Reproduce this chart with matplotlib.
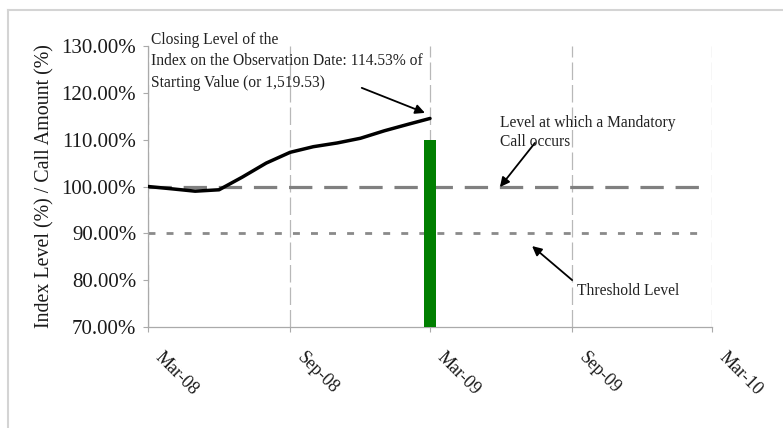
import matplotlib
matplotlib.use("Agg")
import matplotlib.pyplot as plt
from matplotlib.lines import Line2D
from matplotlib.transforms import ScaledTranslation
import pandas as pd

# index level, monthly, as % of starting value
months = ["2008-03-01", "2008-04-01", "2008-05-01", "2008-06-01", "2008-07-01",
          "2008-08-01", "2008-09-01", "2008-10-01", "2008-11-01", "2008-12-01",
          "2009-01-01", "2009-02-01", "2009-03-01"]
index_level = [100.0, 99.5, 99.0, 99.3, 102.0, 105.0, 107.3, 108.5, 109.3,
               110.3, 111.9, 113.3, 114.53]

call_date = "2009-03-01"
call_amount = 110.0

mandatory_call_level = 100.0
threshold_level = 90.0
level_span = ["2008-03-01", "2010-02-20"]

tick_dates = ["2008-03-01", "2008-09-01", "2009-03-01", "2009-09-01", "2010-03-01"]
tick_labels = ["Mar-08", "Sep-08", "Mar-09", "Sep-09", "Mar-10"]
y_ticks = [70, 80, 90, 100, 110, 120, 130]

plt.rcParams["font.family"] = ["Liberation Serif", "DejaVu Serif"]

fig = plt.figure(figsize=(7.83, 4.28), dpi=100)
ax = fig.add_axes([148 / 783, 101 / 428, 564 / 783, 281 / 428])

x = pd.to_datetime(months)
span = pd.to_datetime(level_span)

ax.bar(pd.to_datetime([call_date]), [call_amount], width=15, color="#007f00", zorder=3)
ax.plot(span, [mandatory_call_level] * 2, color="#808080", lw=2.3,
        linestyle=(0, (7.3, 3.7)), zorder=2)
ax.plot(span, [threshold_level] * 2, color="#8a8a8a", lw=2.0,
        linestyle=(0, (2.5, 4)), zorder=2)
ax.plot(x, index_level, color="black", lw=2.5, zorder=4, solid_capstyle="round")

ax.set_xlim(pd.Timestamp(tick_dates[0]), pd.Timestamp(tick_dates[-1]))
ax.set_ylim(70, 130)
ax.set_yticks(y_ticks)
ax.set_yticklabels([f"{v:.2f}%" for v in y_ticks], fontsize=15, color="#1a1a1a")
ax.set_xticks(pd.to_datetime(tick_dates))
ax.set_xticklabels(tick_labels, rotation=-45, ha="left", va="top",
                   rotation_mode="anchor", fontsize=13, color="#1a1a1a")
ax.tick_params(axis="x", length=3.5, color="#aaaaaa", pad=12)
ax.tick_params(axis="y", length=3.5, color="#aaaaaa", pad=5)
shift = ScaledTranslation(16 / 100, 0, fig.dpi_scale_trans)
for lab in ax.get_xticklabels():
    lab.set_transform(lab.get_transform() + shift)

ax.grid(axis="x", color="#b8b8b8", lw=0.9, linestyle=(0, (14, 4)))
ax.set_axisbelow(True)
for side in ["top", "right"]:
    ax.spines[side].set_visible(False)
for side in ["left", "bottom"]:
    ax.spines[side].set_color("#aaaaaa")
    ax.spines[side].set_linewidth(0.9)

ax.set_ylabel("Index Level (%) / Call Amount (%)", fontsize=14.4, color="#1a1a1a",
              labelpad=5)

txt = dict(fontsize=11.2, color="#222222", transform=ax.transAxes)
arrow = dict(arrowstyle="-|>", color="black", lw=1.3, mutation_scale=14,
             shrinkA=0, shrinkB=0)

ax.text(0.005, 1.05, "Closing Level of the\nIndex on the Observation Date: 114.53% of\n"
        "Starting Value (or 1,519.53)", va="top", ha="left", linespacing=1.45, **txt)
ax.annotate("", xy=(0.491, 0.762), xytext=(0.379, 0.851),
            xycoords="axes fraction", textcoords="axes fraction", arrowprops=arrow)

ax.text(0.624, 0.755, "Level at which a Mandatory\nCall occurs", va="top", ha="left",
        linespacing=1.3, **txt)
ax.annotate("", xy=(0.624, 0.498), xytext=(0.686, 0.655),
            xycoords="axes fraction", textcoords="axes fraction", arrowprops=arrow)

ax.text(0.761, 0.128, "Threshold Level", va="center", ha="left", **txt)
ax.annotate("", xy=(0.681, 0.288), xytext=(0.752, 0.167),
            xycoords="axes fraction", textcoords="axes fraction", arrowprops=arrow)

# light outer frame (top and left edges visible)
fig.add_artist(Line2D([8 / 783, 1], [1 - 10 / 428] * 2, color="#d4d4d4", lw=1.5))
fig.add_artist(Line2D([8 / 783] * 2, [0, 1 - 10 / 428], color="#d4d4d4", lw=1.5))

fig.savefig("out.png", dpi=100)
